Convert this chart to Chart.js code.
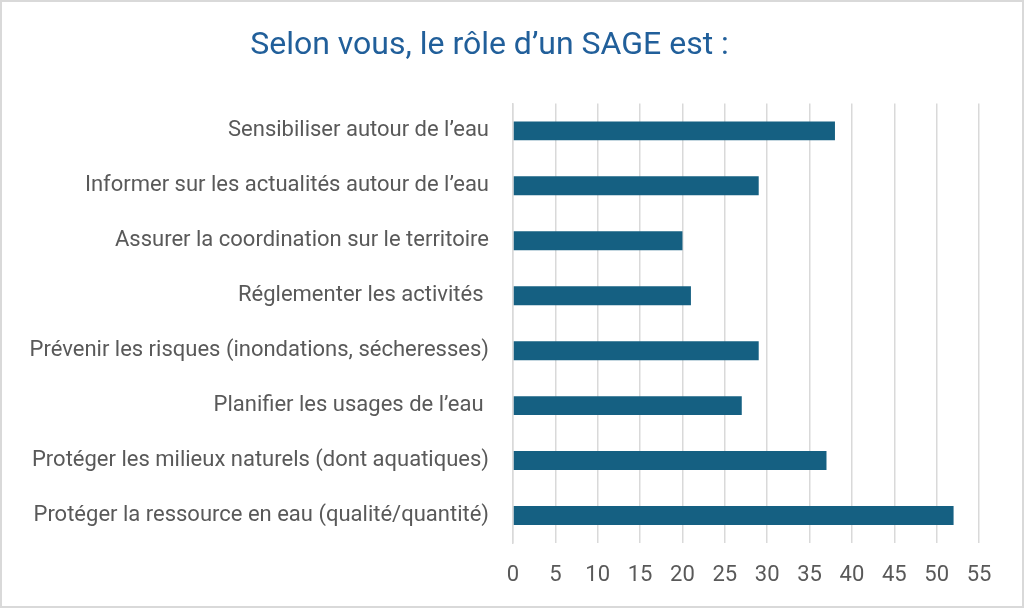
<!DOCTYPE html>
<html>
<head>
<meta charset="utf-8">
<script src="https://cdn.jsdelivr.net/npm/chart.js@4"></script>
<style>
  body { margin: 0; background: #fff; }
  #wrap { width: 1024px; height: 608px; }
</style>
</head>
<body>
<div id="wrap"><canvas id="myChart" width="1024" height="608"></canvas></div>
<script>
var categories = [
  'Sensibiliser autour de l\u2019eau',
  'Informer sur les actualités autour de l\u2019eau',
  'Assurer la coordination sur le territoire',
  'Réglementer les activités ',
  'Prévenir les risques (inondations, sécheresses)',
  'Planifier les usages de l\u2019eau ',
  'Protéger les milieux naturels (dont aquatiques)',
  'Protéger la ressource en eau (qualité/quantité)'
];
var responses = [38, 29, 20, 21, 29, 27, 37, 52];
var xMax = 55;
var xStep = 5;

var fontFamily = 'Roboto, "Noto Sans", sans-serif';

// white background + thin grey frame like the Excel chart area
var frame = {
  id: 'frame',
  beforeDraw: function(chart) {
    var c = chart.ctx;
    c.save();
    c.fillStyle = '#fff';
    c.fillRect(0, 0, chart.width, chart.height);
    c.restore();
  },
  afterDraw: function(chart) {
    var c = chart.ctx;
    c.save();
    c.strokeStyle = '#d9d9d9';
    c.lineWidth = 2;
    c.strokeRect(1, 1, chart.width - 2, chart.height - 2);
    c.restore();
  }
};

function createBarChart(ctxElementId, labels, data) {
  var ctx = document.getElementById(ctxElementId);
  return new Chart(ctx, {
    type: 'bar',
    data: {
      labels: labels,
      datasets: [{
        data: data,
        backgroundColor: '#156082',
        borderWidth: 0,
        barPercentage: 0.43,
        categoryPercentage: 0.8
      }]
    },
    options: {
      indexAxis: 'y',
      responsive: false,
      animation: false,
      devicePixelRatio: 1,
      layout: { padding: { top: 0, right: 45, bottom: 0, left: 0 } },
      plugins: {
        legend: { display: false },
        tooltip: { enabled: false },
        title: {
          display: true,
          text: 'Selon vous, le rôle d\u2019un SAGE est :',
          color: '#215f9a',
          font: { family: fontFamily, size: 32, weight: 'normal', lineHeight: 1.2 },
          padding: { top: 27, bottom: 38 }
        }
      },
      scales: {
        x: {
          min: 0,
          max: xMax,
          afterFit: function(scale) { scale.height = 65; },
          ticks: {
            stepSize: xStep,
            color: '#595959',
            padding: 19,
            font: { family: fontFamily, size: 22, lineHeight: 1.2 }
          },
          grid: { color: '#d9d9d9', lineWidth: 1.5, drawTicks: false },
          border: { display: false }
        },
        y: {
          afterFit: function(scale) { scale.width = 513; },
          ticks: {
            color: '#595959',
            padding: 24,
            font: { family: fontFamily, size: 22, lineHeight: 1.2 }
          },
          grid: { display: false, drawTicks: false },
          border: { display: true, color: '#d9d9d9', width: 1.5 }
        }
      }
    },
    plugins: [frame]
  });
}

createBarChart('myChart', categories, responses);
</script>
</body>
</html>
